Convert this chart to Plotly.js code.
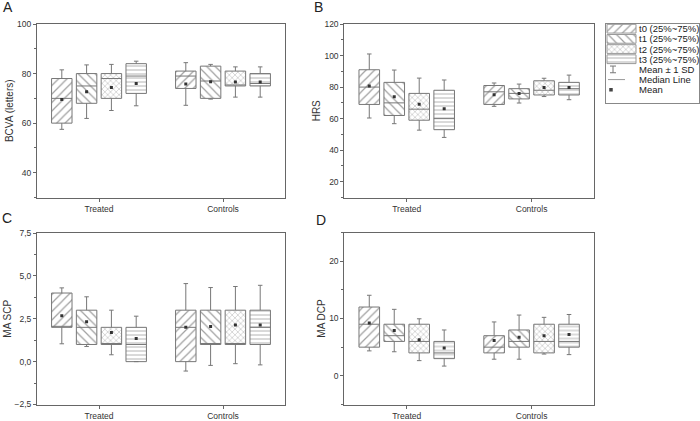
<!DOCTYPE html>
<html><head><meta charset="utf-8">
<script src="https://cdn.plot.ly/plotly-3.0.1.min.js"></script>
<style>html,body{margin:0;padding:0;background:#fff}#chart{width:700px;height:421px}</style>
</head><body><div id="chart"></div>
<script>
// ---------- DATA ----------
const groups = ['Treated', 'Controls'];
const seriesNames = ['t0 (25%~75%)', 't1 (25%~75%)', 't2 (25%~75%)', 't3 (25%~75%)'];
const extraLegend = ['Mean \u00b1 1 SD', 'Median Line', 'Mean'];

// rows: t0, t1, t2, t3 ; columns: Treated, Controls
// A: BCVA (letters)
const bcvaQ1   = [[60, 74], [68, 70], [70, 75], [72, 75]];
const bcvaMed  = [[70, 79], [75, 77], [78, 75], [79, 76]];
const bcvaQ3   = [[78, 81], [80, 83], [80, 81], [84, 80]];
const bcvaMean = [[69.5, 75.8], [72.7, 76.7], [74.4, 76.6], [76.0, 76.6]];
const bcvaSd   = [[12.0, 8.6], [10.8, 7.0], [9.3, 6.1], [9.0, 6.1]];

// B: HRS
const hrsQ1   = [[69, 69], [62, 72.5], [59, 75], [53, 75]];
const hrsMed  = [[80, 77], [70, 76], [66, 78], [60, 79]];
const hrsQ3   = [[91, 81], [83, 79], [76, 84], [78, 83]];
const hrsMean = [[80.7, 75.2], [73.8, 75.9], [69.2, 79.8], [66.3, 79.8]];
const hrsSd   = [[20.3, 7.4], [17.0, 6.0], [16.5, 5.8], [18.2, 7.8]];

// C: MA SCP
const scpQ1   = [[2, 0], [1, 1], [1, 1], [0, 1]];
const scpMed  = [[2, 2], [2, 1], [1, 1], [1, 2]];
const scpQ3   = [[4, 3], [3, 3], [2, 3], [2, 3]];
const scpMean = [[2.67, 2.0], [2.33, 2.05], [1.7, 2.13], [1.35, 2.13]];
const scpSd   = [[1.63, 2.55], [1.45, 2.27], [1.3, 2.25], [1.3, 2.32]];

// D: MA DCP
const dcpQ1   = [[5, 4], [6, 5], [4, 4], [3, 5]];
const dcpMed  = [[9, 5], [7, 6], [6, 6], [4, 6]];
const dcpQ3   = [[12, 7], [9, 8], [9, 9], [6, 9]];
const dcpMean = [[9.2, 6.15], [7.9, 6.75], [6.3, 7.0], [4.85, 7.2]];
const dcpSd   = [[4.85, 3.25], [3.7, 3.85], [3.65, 3.2], [3.15, 3.5]];

// ---------- STYLE / LAYOUT ----------
const W = 700, H = 421;
const FONT = 'Liberation Sans, Arial, sans-serif';
const patShapes = ['/', '\\', 'x', '-'];
const patSizes = [6, 6, 4, 4];
const slotOffsets = [-0.3, -0.1, 0.1, 0.3];
const boxW = 0.165;
const hatchCol = '#a0a0a0';
const boxCol = '#777';
const frameCol = '#666';

const panels = [
  {letter: 'A', title: 'BCVA (letters)', q1: bcvaQ1, med: bcvaMed, q3: bcvaQ3, mean: bcvaMean, sd: bcvaSd,
   range: [30, 100], dtick: 20, minor: 10, fmt: '', px: [37, 285], py: [24, 197.5], lx: 1, ly: -3},
  {letter: 'B', title: 'HRS', q1: hrsQ1, med: hrsMed, q3: hrsQ3, mean: hrsMean, sd: hrsSd,
   range: [10, 120], dtick: 20, minor: 10, fmt: '', px: [344.3, 594], py: [24, 197.5], lx: 312, ly: -3},
  {letter: 'C', title: 'MA SCP', q1: scpQ1, med: scpMed, q3: scpQ3, mean: scpMean, sd: scpSd,
   range: [-2.5, 7.5], dtick: 2.5, minor: 1.25, fmt: '.1f', px: [37, 285], py: [233, 404.5], lx: 0, ly: 207.5},
  {letter: 'D', title: 'MA DCP', q1: dcpQ1, med: dcpMed, q3: dcpQ3, mean: dcpMean, sd: dcpSd,
   range: [-5, 25], dtick: 10, minor: 5, fmt: '', px: [344.3, 594], py: [232.5, 404.5], lx: 314, ly: 209.5}
];

const data = [];
const layout = {
  width: W, height: H,
  margin: {l: 0, r: 0, t: 0, b: 0},
  paper_bgcolor: '#fff', plot_bgcolor: '#fff',
  font: {family: FONT, size: 8.5, color: '#333'},
  barmode: 'overlay', boxmode: 'overlay',
  showlegend: false,
  separators: ',.',
  annotations: [],
  shapes: []
};

panels.forEach((p, i) => {
  const s = i === 0 ? '' : String(i + 1);
  const xa = 'x' + s, ya = 'y' + s;
  for (let k = 0; k < 4; k++) {
    const xs = groups.map((g, j) => j + 1 + slotOffsets[k]);
    const q1 = p.q1[k], q3 = p.q3[k], med = p.med[k], mean = p.mean[k], sd = p.sd[k];
    data.push({
      type: 'bar', x: xs, base: q1, y: q3.map((v, j) => v - q1[j]), width: boxW,
      xaxis: xa, yaxis: ya, hoverinfo: 'skip',
      marker: {color: '#fff', line: {width: 0},
        pattern: {shape: patShapes[k], fgcolor: hatchCol, bgcolor: '#fff', size: patSizes[k], solidity: 0.2, fillmode: 'replace'}}
    });
    data.push({
      type: 'box', x: xs, q1: q1, median: med, q3: q3,
      lowerfence: mean.map((m, j) => m - sd[j]), upperfence: mean.map((m, j) => m + sd[j]),
      width: boxW, whiskerwidth: 0.22, boxpoints: false,
      fillcolor: 'rgba(0,0,0,0)', line: {color: boxCol, width: 1},
      xaxis: xa, yaxis: ya, hoverinfo: 'skip'
    });
    data.push({
      type: 'scatter', mode: 'markers', x: xs, y: mean, xaxis: xa, yaxis: ya,
      marker: {symbol: 'square', size: 3, color: '#333'}, hoverinfo: 'skip'
    });
  }
  layout['xaxis' + s] = {
    domain: [p.px[0] / W, p.px[1] / W], anchor: ya, range: [0.5, 2.5],
    tickvals: [1, 2], ticktext: groups, ticks: 'outside', ticklen: 3, tickcolor: frameCol,
    showline: true, linecolor: frameCol, linewidth: 1, mirror: true,
    showgrid: false, zeroline: false, tickfont: {size: 8.5, color: '#333'}
  };
  layout['yaxis' + s] = {
    domain: [1 - p.py[1] / H, 1 - p.py[0] / H], anchor: xa, range: p.range,
    dtick: p.dtick, tick0: 0, tickformat: p.fmt, ticks: 'outside', ticklen: 3, tickcolor: frameCol,
    minor: {ticks: 'outside', ticklen: 2, dtick: p.minor, tick0: 0, tickcolor: frameCol},
    showline: true, linecolor: frameCol, linewidth: 1, mirror: true,
    showgrid: false, zeroline: false, tickfont: {size: 8.5, color: '#333'},
    title: {text: p.title, font: {size: 10, color: '#333'}, standoff: 1}
  };
  layout.annotations.push({
    xref: 'paper', yref: 'paper', x: p.lx / W, y: 1 - p.ly / H, xanchor: 'left', yanchor: 'top',
    text: p.letter, showarrow: false, font: {size: 14, color: '#222'}
  });
});

// ---------- LEGEND (drawn as a small subplot) ----------
const lgX = [606, 699], lgY = [24, 103];
layout.xaxis5 = {domain: [lgX[0] / W, lgX[1] / W], anchor: 'y5', range: [0, 93],
  showline: true, mirror: true, linecolor: '#888', linewidth: 1, ticks: '', showticklabels: false,
  showgrid: false, zeroline: false, fixedrange: true};
layout.yaxis5 = {domain: [1 - lgY[1] / H, 1 - lgY[0] / H], anchor: 'x5', range: [7.3, -0.46],
  showline: true, mirror: true, linecolor: '#888', linewidth: 1, ticks: '', showticklabels: false,
  showgrid: false, zeroline: false, fixedrange: true};
seriesNames.forEach((name, k) => {
  data.push({type: 'bar', x: [15.5], base: [k - 0.43], y: [0.86], width: 29, xaxis: 'x5', yaxis: 'y5', hoverinfo: 'skip',
    marker: {color: '#fff', line: {width: 1, color: '#999'},
      pattern: {shape: patShapes[k], fgcolor: hatchCol, bgcolor: '#fff', size: patSizes[k], solidity: 0.2, fillmode: 'replace'}}});
});
data.push({type: 'scatter', mode: 'markers', x: [7], y: [4], xaxis: 'x5', yaxis: 'y5', hoverinfo: 'skip',
  marker: {size: 1, color: 'rgba(0,0,0,0)'},
  error_y: {type: 'data', array: [0.33], color: '#777', thickness: 1, width: 3}});
data.push({type: 'scatter', mode: 'lines', x: [2, 19], y: [5, 5], xaxis: 'x5', yaxis: 'y5', hoverinfo: 'skip',
  line: {color: '#999', width: 1}});
data.push({type: 'scatter', mode: 'markers', x: [5], y: [6], xaxis: 'x5', yaxis: 'y5', hoverinfo: 'skip',
  marker: {symbol: 'square', size: 3.5, color: '#444'}});
seriesNames.concat(extraLegend).forEach((t, r) => {
  layout.annotations.push({xref: 'x5', yref: 'y5', x: 31, y: r, xanchor: 'left', yanchor: 'middle',
    text: t, showarrow: false, font: {size: 9.5, color: '#222'}});
});

Plotly.newPlot('chart', data, layout, {staticPlot: true, displayModeBar: false});
</script>
</body></html>
